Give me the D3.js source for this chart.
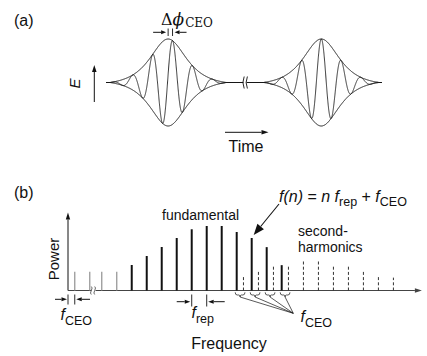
<!DOCTYPE html>
<html><head><meta charset="utf-8">
<script src="https://cdn.jsdelivr.net/npm/d3@7"></script>
<style>body{margin:0;background:#fff}svg{display:block}</style>
</head><body><script>
// ---------- data ----------
// (a) pulse train, time measured in carrier cycles
const pulseTimes = [0, 50];        // pulse centres
const pulsePhases = [0.22, 0];     // carrier-envelope phase of each pulse (cycles)
const envelopeWidth = 0.8;         // sech envelope width (cycles)
const envelopeCut = 2.9;           // envelope tapers to zero at this distance (cycles)

// (b) comb spectrum, frequency measured in units of f_rep
const fCEO = 0.45;
const weakModes = [0, 1, 38, 39];
const weakPower = [2.4, 2.4, 2.4, 2.4];
const fundModes = [40, 41, 42, 43, 44, 45, 46, 47, 48, 49, 50];
const fundPower = [3.27, 4.42, 5.58, 6.73, 7.85, 8.27, 8.27, 7.5, 6.73, 5.56, 3.25];
const shgModes = [47, 48, 49, 50, 51, 52, 53, 54, 55, 56, 57];
const shgPower = [1.86, 2.63, 3.23, 3.23, 4.0, 4.0, 3.23, 3.23, 2.63, 1.86, 1.65];
const braceModes = [47, 48, 49, 50];
const arrowMode = 48;

const W = 427, H = 356;
const ink = "#111";
const sans = "'Liberation Sans', Arial, sans-serif";
const serif = "'DejaVu Serif', 'Liberation Serif', serif";

const svg = d3.select("body").append("svg").attr("width", W).attr("height", H);

function arrow(g, x1, y1, x2, y2, len = 7, half = 2.6, color = ink, sw = 1) {
  const a = Math.atan2(y2 - y1, x2 - x1);
  const bx = x2 - len * Math.cos(a), by = y2 - len * Math.sin(a);
  g.append("line").attr("x1", x1).attr("y1", y1).attr("x2", bx).attr("y2", by)
    .attr("stroke", color).attr("stroke-width", sw);
  const px = -Math.sin(a) * half, py = Math.cos(a) * half;
  g.append("path").attr("d", `M${x2},${y2}L${bx + px},${by + py}L${bx - px},${by - py}Z`)
    .attr("fill", color);
}

// ================= (a) =================
const ga = svg.append("g");
const tScale = d3.scaleLinear()
  .domain([-3.1, 3.835, 46.165, 53.05])
  .range([106, 245, 245, 382]);
const eScale = d3.scaleLinear().domain([-1, 1]).range([126, 39]);

const sech = x => 2 / (Math.exp(x) + Math.exp(-x));
const floorVal = sech(envelopeCut / envelopeWidth);
// sech envelope shifted so that it reaches zero at the cut distance
const shape = dt => Math.abs(dt) >= envelopeCut ? 0
  : (sech(dt / envelopeWidth) - floorVal) / (1 - floorVal);
const env = t => d3.sum(pulseTimes, c => shape(t - c));
const field = t => d3.sum(pulseTimes, (c, i) =>
  shape(t - c) * Math.cos(2 * Math.PI * (t - c - pulsePhases[i])));

const segments = [[-3.1, 3.835], [46.165, 53.05]];
const line = d3.line().x(d => tScale(d[0])).y(d => eScale(d[1]));
segments.forEach(([a, b]) => {
  const ts = d3.range(a, b + 1e-9, 0.004);
  ga.append("path").attr("d", line(ts.map(t => [t, env(t)])))
    .attr("fill", "none").attr("stroke", ink).attr("stroke-width", 1);
  ga.append("path").attr("d", line(ts.map(t => [t, -env(t)])))
    .attr("fill", "none").attr("stroke", ink).attr("stroke-width", 1);
  ga.append("path").attr("d", line(ts.map(t => [t, field(t)])))
    .attr("fill", "none").attr("stroke", ink).attr("stroke-width", 0.85);
});

// broken time axis mark
const bx = tScale(3.835), by = eScale(0);
ga.append("rect").attr("x", bx - 1.5).attr("y", by - 2).attr("width", 3).attr("height", 4).attr("fill", "#fff");
[-1.6, 1.6].forEach(dx => {
  ga.append("path").attr("d", `M${bx + dx + 0.8},${by - 6} Q${bx + dx - 1.8},${by} ${bx + dx + 0.8},${by + 6}`)
    .attr("fill", "none").attr("stroke", ink).attr("stroke-width", 0.9);
});

// carrier-envelope phase slip marker
const xe = tScale(pulseTimes[0]), xc = tScale(pulseTimes[0] + pulsePhases[0]);
ga.append("line").attr("x1", xe).attr("x2", xe).attr("y1", 28.5).attr("y2", 36).attr("stroke", ink).attr("stroke-width", 0.9);
ga.append("line").attr("x1", xc).attr("x2", xc).attr("y1", 28.5).attr("y2", 36).attr("stroke", ink).attr("stroke-width", 0.9);
arrow(ga, xe - 15, 32.3, xe - 2, 32.3, 5, 2);
arrow(ga, xc + 14, 32.3, xc + 2, 32.3, 5, 2);
const phiLabel = ga.append("text").attr("x", 161).attr("y", 25).attr("font-family", serif).attr("fill", ink);
phiLabel.append("tspan").attr("font-size", 16).text("Δ");
phiLabel.append("tspan").attr("font-size", 17).attr("font-style", "italic").text("ϕ");
phiLabel.append("tspan").attr("font-size", 12).attr("dx", 1).attr("dy", 2).text("CEO");

// E axis arrow and label
arrow(ga, 94.3, 102, 94.3, 65, 7, 2.3);
ga.append("text").attr("transform", "translate(80,83.5) rotate(-90)")
  .attr("text-anchor", "middle").attr("font-family", sans).attr("font-style", "italic")
  .attr("font-size", 15).attr("fill", ink).text("E");

// Time arrow and label
arrow(ga, 225, 132.3, 268.5, 132.3, 7, 2.3);
ga.append("text").attr("x", 246).attr("y", 151.5).attr("text-anchor", "middle")
  .attr("font-family", sans).attr("font-size", 16).attr("fill", ink).text("Time");

svg.append("text").attr("x", 14).attr("y", 26).attr("font-family", sans)
  .attr("font-size", 16).attr("fill", ink).text("(a)");

// ================= (b) =================
const gb = svg.append("g");
const fScale = d3.scaleLinear()
  .domain([0, 1.7, 37.9, 59.8])
  .range([68, 93.5, 93.5, 421.9]);
const pScale = d3.scaleLinear().domain([0, 10]).range([290.5, 212.5]);
const y0 = pScale(0);

// axes
arrow(gb, fScale(0), y0, fScale(0), pScale(10), 7, 2.2, ink, 1);
arrow(gb, fScale(0), y0, fScale(59.8), y0, 7, 2.2, "#444", 1.2);

// weak comb lines (grey)
gb.selectAll(".weak").data(weakModes).join("line")
  .attr("x1", d => fScale(d + fCEO)).attr("x2", d => fScale(d + fCEO))
  .attr("y1", y0).attr("y2", (d, i) => pScale(weakPower[i]))
  .attr("stroke", "#999").attr("stroke-width", 1.3);

// fundamental comb lines
gb.selectAll(".fund").data(fundModes).join("line")
  .attr("x1", d => fScale(d + fCEO)).attr("x2", d => fScale(d + fCEO))
  .attr("y1", y0).attr("y2", (d, i) => pScale(fundPower[i]))
  .attr("stroke", ink).attr("stroke-width", 2);

// second-harmonic comb lines (dashed)
gb.selectAll(".shg").data(shgModes).join("line")
  .attr("x1", d => fScale(d + 2 * fCEO)).attr("x2", d => fScale(d + 2 * fCEO))
  .attr("y1", y0).attr("y2", (d, i) => pScale(shgPower[i]))
  .attr("stroke", "#333").attr("stroke-width", 1).attr("stroke-dasharray", "3,2.2");

// axis break
const fb = fScale(1.7);
gb.append("rect").attr("x", fb - 2).attr("y", y0 - 2).attr("width", 4).attr("height", 4).attr("fill", "#fff");
[-1.7, 1.7].forEach(dx => {
  gb.append("path").attr("d", `M${fb + dx - 0.5},${y0 - 4} q1.6,1 0,4 q-1.6,3 0,4`)
    .attr("fill", "none").attr("stroke", "#444").attr("stroke-width", 0.8);
});

// f_CEO marker at origin
const tickY1 = 294.5, tickY2 = 304.5;
[fScale(0), fScale(fCEO)].forEach(x => gb.append("line").attr("x1", x).attr("x2", x)
  .attr("y1", tickY1).attr("y2", tickY2).attr("stroke", ink).attr("stroke-width", 0.9));
arrow(gb, 55, 299.3, fScale(0) - 1, 299.3, 5.5, 2);
arrow(gb, 90, 299.3, fScale(fCEO) + 1.5, 299.3, 5.5, 2);

// f_rep marker
const r1 = fScale(44 + fCEO), r2 = fScale(45 + fCEO);
[r1, r2].forEach(x => gb.append("line").attr("x1", x).attr("x2", x)
  .attr("y1", 294.5).attr("y2", 306.5).attr("stroke", ink).attr("stroke-width", 0.9));
arrow(gb, r1 - 15, 301.7, r1 - 1.5, 301.7, 5.5, 2);
arrow(gb, r2 + 18, 301.7, r2 + 1.5, 301.7, 5.5, 2);

// braces between each fundamental line and its second-harmonic neighbour
const meet = [293.3, 313.3];
braceModes.forEach(n => {
  const a = fScale(n + fCEO) - 1.5, b = fScale(n + 2 * fCEO) + 1.5, m = (a + b) / 2;
  gb.append("path")
    .attr("d", `M${a},292.3 Q${a},295 ${a + 2},295 L${m - 1.2},295 Q${m},295 ${m},297 Q${m},295 ${m + 1.2},295 L${b - 2},295 Q${b},295 ${b},292.3`)
    .attr("fill", "none").attr("stroke", ink).attr("stroke-width", 0.7);
  gb.append("line").attr("x1", m).attr("y1", 297).attr("x2", meet[0]).attr("y2", meet[1])
    .attr("stroke", ink).attr("stroke-width", 0.7);
});

// arrow to the n-th mode
arrow(gb, 279, 204, fScale(arrowMode + fCEO) + 2, pScale(fundPower[fundModes.indexOf(arrowMode)]) - 3, 11, 4.2, ink, 1.1);

// labels
function subLabel(g, x, y, parts) {
  const t = g.append("text").attr("x", x).attr("y", y).attr("font-family", sans).attr("fill", ink);
  parts.forEach(p => {
    const s = t.append("tspan").attr("font-size", p.sub ? 12.5 : 16).text(p.t);
    if (p.it) s.attr("font-style", "italic");
    if (p.dy) s.attr("dy", p.dy);
  });
  return t;
}
subLabel(gb, 60.5, 320, [{t: "f", it: true}, {t: "CEO", sub: true, dy: 5}]);
subLabel(gb, 191.5, 318, [{t: "f", it: true}, {t: "rep", sub: true, dy: 5}]);
subLabel(gb, 300.5, 322, [{t: "f", it: true}, {t: "CEO", sub: true, dy: 5}]);
subLabel(gb, 279, 201.5, [
  {t: "f(n)", it: true}, {t: " = "}, {t: "n f", it: true},
  {t: "rep", sub: true, dy: 4}, {t: " + ", dy: -4}, {t: "f", it: true},
  {t: "CEO", sub: true, dy: 4}]);

gb.append("text").attr("x", 162).attr("y", 220).attr("font-family", sans).attr("font-size", 14)
  .attr("fill", ink).text("fundamental");
gb.append("text").attr("x", 298).attr("y", 236).attr("font-family", sans).attr("font-size", 14)
  .attr("fill", ink).text("second-");
gb.append("text").attr("x", 298).attr("y", 252).attr("font-family", sans).attr("font-size", 14)
  .attr("fill", ink).text("harmonics");
gb.append("text").attr("transform", "translate(58.5,259) rotate(-90)").attr("text-anchor", "middle")
  .attr("font-family", sans).attr("font-size", 15).attr("fill", ink).text("Power");
gb.append("text").attr("x", 229).attr("y", 349).attr("text-anchor", "middle")
  .attr("font-family", sans).attr("font-size", 16).attr("fill", ink).text("Frequency");

svg.append("text").attr("x", 14).attr("y", 198).attr("font-family", sans)
  .attr("font-size", 16).attr("fill", ink).text("(b)");
</script></body></html>
